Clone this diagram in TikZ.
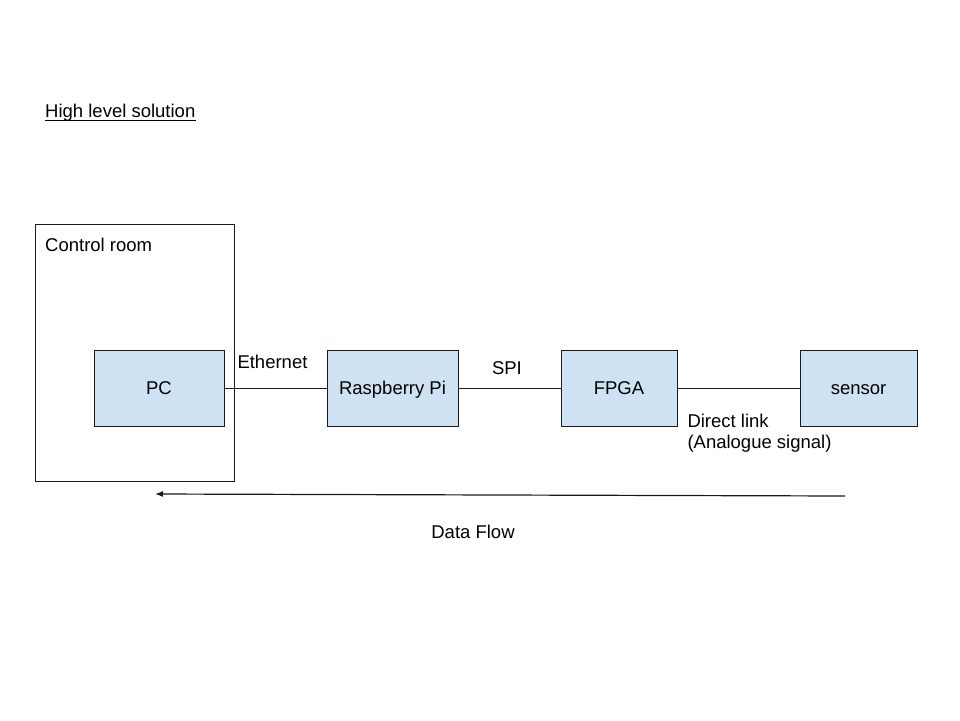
\documentclass[tikz,border=0pt]{standalone}
\usepackage{fontspec}
\setmainfont{Liberation Sans}
\usetikzlibrary{positioning,arrows.meta}
\definecolor{boxblue}{HTML}{CFE2F3}
\definecolor{edge}{HTML}{1A1A1A}
\tikzstyle{block} = [rectangle, minimum height=76pt, text centered, text height=13.3pt, text depth=0pt, draw=edge, line width=1pt, fill=boxblue, inner sep=0pt, outer sep=0pt]
\tikzstyle{room} = [rectangle, minimum width=199pt, minimum height=257pt, draw=edge, line width=1pt]
\tikzstyle{lbl} = [inner sep=0pt, align=left]
\tikzstyle{link} = [line width=1pt, draw=edge]
\tikzstyle{arrow} = [line width=1.2pt, draw=edge, ->, >={Latex[length=8pt,width=6pt]}]

\begin{document}
\begin{tikzpicture}[x=1pt, y=-1pt, font=\fontsize{18.5}{21}\selectfont]
\useasboundingbox (0,0) rectangle (960,720);

\node(title) [lbl, anchor=base west] at (45,117) {High level solution};
\draw [line width=1pt] ([yshift=-3pt]title.base west) -- ([yshift=-3pt]title.base east);

\node(ctrl) [room] at (134.5,352.5) {};
\node(ctrltext) [lbl, anchor=base west] at (45,251) {Control room};

\node(pc) [block, minimum width=130pt] at (159,388) {PC};
\node(rpi) [block, minimum width=131pt, right=103pt of pc] {Raspberry Pi};
\node(fpga) [block, minimum width=116pt, right=103pt of rpi] {FPGA};
\node(sensor) [block, minimum width=117pt, right=123pt of fpga] {sensor};

\draw [link] (pc) -- node[lbl, pos=0, anchor=base west, xshift=13pt, yshift=20pt]{Ethernet} (rpi);
\draw [link] (rpi) -- node[lbl, pos=0, anchor=base west, xshift=33.5pt, yshift=14pt]{SPI} (fpga);
\draw [link] (fpga) -- node[lbl, pos=0, anchor=north west, xshift=10pt, yshift=-26pt]{Direct link\\(Analogue signal)} (sensor);

\coordinate (flowstart) at (845,496);
\coordinate (flowend) at (155,494);
\draw [arrow] (flowstart) -- (flowend);
\node(flow) [lbl, anchor=base] at (473,538) {Data Flow};

\end{tikzpicture}
\end{document}
